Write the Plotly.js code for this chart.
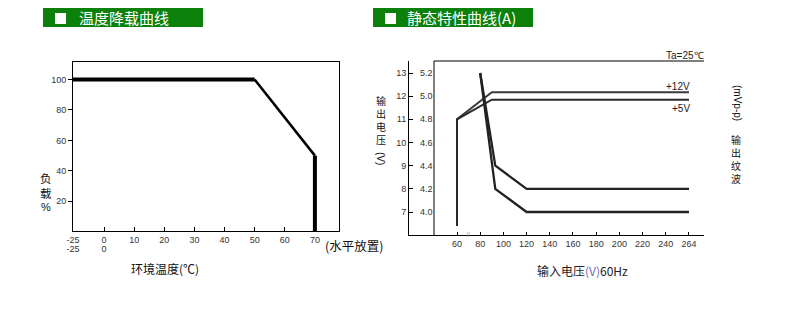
<!DOCTYPE html>
<html><head><meta charset="utf-8">
<script src="https://cdn.plot.ly/plotly-3.0.1.min.js"></script>
<style>html,body{margin:0;padding:0;background:#fff}#c{width:800px;height:309px}</style>
</head><body><div id="c"></div>
<script>
// ---- Data: 温度降载曲线 ----
const deratingTemp = [-25, 50, 70, 70];
const deratingLoad = [100, 100, 50, 0];
const tempTickVals = [-25, 0, 10, 20, 30, 40, 50, 60, 70];
const tempTickText = ['-25', '0', '10', '20', '30', '40', '50', '60', '70'];
const tempTickVals2 = [-25, 0];
const tempTickText2 = ['-25', '0'];
const loadTicks = [20, 40, 60, 80, 100];

// ---- Data: 静态特性曲线(A) ----
const vin12 = [60, 60, 90, 264];
const out12V = [6.4, 11.0, 12.17, 12.17];
const vin5 = [60, 60, 90, 264];
const out5V = [3.88, 4.8, 4.97, 4.97];
const vinRippleA = [80, 93, 120, 264];
const rippleA = [300, 100, 50, 50];
const vinRippleB = [80, 93, 120, 264];
const rippleB = [300, 50, 25, 25];
const vinTicks = [60, 80, 100, 120, 140, 160, 180, 200, 220, 240, 264];
const v12Ticks = [7, 8, 9, 10, 11, 12, 13];
const v5Ticks = [4.0, 4.2, 4.4, 4.6, 4.8, 5.0, 5.2];
const rippleTicks = [25, 50, 100, 150, 200, 250, 300];

// ---- scale helpers (broken / stepped axes of the original) ----
const W = 800, H = 309;
const px = x => x / W, py = y => 1 - y / H;
const tPos = t => t < 0 ? t * 10.3 / 25 : t;
function pw(v, ticks) {
  for (let i = 0; i < ticks.length - 1; i++) {
    if (v <= ticks[i + 1]) return i + (v - ticks[i]) / (ticks[i + 1] - ticks[i]);
  }
  return ticks.length - 1;
}
const vPos = v => pw(v, vinTicks);
const v5Pos = v => 7 + (v - 4.0) / 0.2;
const rPos = r => 7 + pw(r, rippleTicks);

const tickFont = {family: 'Liberation Sans, Arial, sans-serif', size: 9, color: '#333'};
const cjk = 'Noto Sans CJK SC, sans-serif';

const traces = [
  {x: deratingTemp.slice(0, 2).map(tPos), y: deratingLoad.slice(0, 2), xaxis: 'x', yaxis: 'y', mode: 'lines', line: {color: '#000', width: 4}},
  {x: deratingTemp.slice(1, 3).map(tPos), y: deratingLoad.slice(1, 3), xaxis: 'x', yaxis: 'y', mode: 'lines', line: {color: '#000', width: 2.5}},
  {x: deratingTemp.slice(2, 4).map(tPos), y: deratingLoad.slice(2, 4), xaxis: 'x', yaxis: 'y', mode: 'lines', line: {color: '#000', width: 4}},
  {x: vin12.map(vPos), y: out12V, xaxis: 'x2', yaxis: 'y2', mode: 'lines', line: {color: '#3a3a3a', width: 2}},
  {x: vin5.map(vPos), y: out5V.map(v5Pos), xaxis: 'x2', yaxis: 'y2', mode: 'lines', line: {color: '#2a2a2a', width: 2}},
  {x: vinRippleA.map(vPos), y: rippleA.map(rPos), xaxis: 'x2', yaxis: 'y2', mode: 'lines', line: {color: '#222', width: 2.3}},
  {x: vinRippleB.map(vPos), y: rippleB.map(rPos), xaxis: 'x2', yaxis: 'y2', mode: 'lines', line: {color: '#222', width: 2.3}},
  // invisible carriers so the secondary label axes get their own subplots
  {x: [null], y: [null], xaxis: 'x3', yaxis: 'y', mode: 'lines', hoverinfo: 'skip'},
  {x: [null], y: [null], xaxis: 'x2', yaxis: 'y3', mode: 'lines', hoverinfo: 'skip'}
];

const yR2 = [6.007, 13.518];
const ax = {showgrid: false, zeroline: false, tickfont: tickFont, linecolor: '#000', linewidth: 1, tickcolor: '#000', fixedrange: true};

const ann = [];
function A(text, x, y, o) { ann.push(Object.assign({text, x: px(x), y: py(y), xref: 'paper', yref: 'paper', showarrow: false, xanchor: 'center', yanchor: 'middle', font: {family: cjk, size: 12, color: '#111'}}, o || {})); }
// headers
A('温度降载曲线', 77, 18, {xanchor: 'left', font: {family: cjk, size: 15, color: '#fff'}});
A('静态特性曲线(A)', 405, 18, {xanchor: 'left', font: {family: cjk, size: 15, color: '#fff'}});
// left chart labels
A('负<br>载', 46, 185, {font: {family: cjk, size: 11.5, color: '#111'}});
A('%', 46, 207, {font: {family: 'Liberation Sans', size: 11, color: '#111'}});
A('(水平放置)', 354, 245, {font: {family: cjk, size: 12.5, color: '#111'}});
A('环境温度(℃)', 165, 268);
// right chart labels (stacked vertical CJK)
const vcjk = {family: cjk, size: 10, color: '#111'};
A('输<br>出<br>电<br>压', 381, 91, {yanchor: 'top', font: vcjk});
A('(V)', 381, 158, {textangle: 90, font: {family: 'Liberation Sans', size: 10, color: '#111'}});
A('(mVp-p)', 737, 103, {textangle: 90, font: {family: 'Liberation Sans', size: 10, color: '#111'}});
A('输<br>出<br>纹<br>波', 736, 130, {yanchor: 'top', font: vcjk});
A('Ta=25℃', 685, 55, {font: {family: 'Liberation Sans', size: 10, color: '#222'}});
A('+12V', 678, 86, {font: {family: 'Liberation Sans', size: 10, color: '#222'}});
A('+5V', 681, 108, {font: {family: 'Liberation Sans', size: 10, color: '#222'}});
A('//', 468, 234, {font: {family: 'Liberation Sans', size: 7, color: '#999'}});
A('输入电压<span style="color:#6a6ab0">(V)</span>60Hz', 582, 270, {font: {family: cjk, size: 12, color: '#222'}});

const shapes = [
  {type: 'rect', xref: 'paper', yref: 'paper', x0: px(43), x1: px(203), y0: py(27), y1: py(8), fillcolor: '#0b800b', line: {width: 0}},
  {type: 'rect', xref: 'paper', yref: 'paper', x0: px(55), x1: px(66), y0: py(24), y1: py(13), fillcolor: '#fff', line: {width: 0}},
  {type: 'rect', xref: 'paper', yref: 'paper', x0: px(373), x1: px(533), y0: py(27), y1: py(8), fillcolor: '#0b800b', line: {width: 0}},
  {type: 'rect', xref: 'paper', yref: 'paper', x0: px(385), x1: px(396), y0: py(24), y1: py(13), fillcolor: '#fff', line: {width: 0}},
  {type: 'line', xref: 'paper', yref: 'paper', x0: px(434), x1: px(704), y0: py(61), y1: py(61), line: {color: '#000', width: 1}},
  {type: 'line', xref: 'paper', yref: 'paper', x0: px(434), x1: px(434), y0: py(61), y1: py(235), line: {color: '#000', width: 1}}
];

const layout = {
  width: W, height: H, margin: {l: 0, r: 0, t: 0, b: 0}, showlegend: false,
  paper_bgcolor: '#fff', plot_bgcolor: 'rgba(0,0,0,0)',
  xaxis: Object.assign({}, ax, {domain: [px(73), px(339)], range: [-10.3, 78], anchor: 'y', tickvals: tempTickVals.map(tPos), ticktext: tempTickText, ticks: 'inside', ticklen: 4, showline: true, mirror: true}),
  xaxis3: Object.assign({}, ax, {overlaying: 'x', range: [-10.3, 78], anchor: 'y', side: 'bottom', tickmode: 'array', tickvals: tempTickVals2.map(tPos), ticktext: tempTickText2, ticks: 'outside', ticklen: 0, showticklabels: true, showline: false, ticklabelstandoff: 9}),
  yaxis: Object.assign({}, ax, {domain: [py(231), py(62)], range: [0.5, 111.5], anchor: 'x', tickvals: loadTicks, ticks: 'outside', ticklen: 4, showline: true, mirror: true}),
  yaxis5: Object.assign({}, ax, {overlaying: 'y', side: 'right', anchor: 'x', range: [0.5, 111.5], tickvals: loadTicks, ticks: 'inside', ticklen: 3, showticklabels: false, showline: false}),
  xaxis2: Object.assign({}, ax, {domain: [px(409), px(704)], range: [-2.069, 10.647], anchor: 'y2', tickvals: vinTicks.map(vPos), ticktext: vinTicks.map(String), ticks: 'inside', ticklen: 3, showline: true}),
  yaxis2: Object.assign({}, ax, {domain: [py(235), py(61)], range: yR2, anchor: 'x2', tickvals: v12Ticks, ticktext: v12Ticks.map(String), ticks: 'inside', ticklen: 4, showline: true}),
  yaxis3: Object.assign({}, ax, {overlaying: 'y2', anchor: 'x2', side: 'left', ticklabelposition: 'inside', ticklabelstandoff: 8, range: yR2, tickmode: 'array', tickvals: v5Ticks.map(v5Pos), ticktext: v5Ticks.map(v => v.toFixed(1)), ticks: 'outside', ticklen: 0, showticklabels: true, showline: false}),
  yaxis4: Object.assign({}, ax, {overlaying: 'y2', anchor: 'x2', side: 'right', range: yR2, tickvals: rippleTicks.map(rPos), ticktext: rippleTicks.map(String), ticks: 'inside', ticklen: 4, showline: true}),
  annotations: ann, shapes: shapes
};
Plotly.newPlot('c', traces, layout, {staticPlot: true, displayModeBar: false});
</script></body></html>
